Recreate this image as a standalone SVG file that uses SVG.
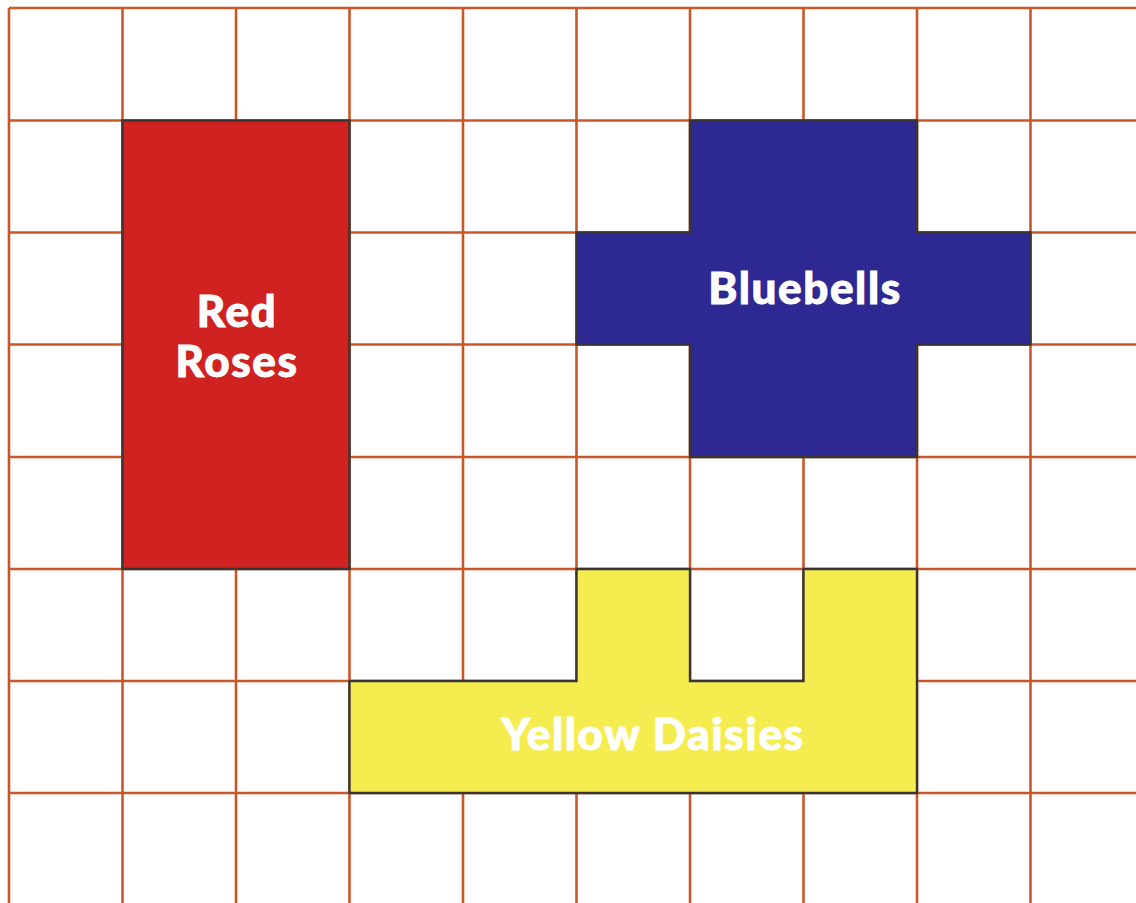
<svg xmlns="http://www.w3.org/2000/svg" width="1136" height="903" viewBox="0 0 1136 903">
<style>
.g{stroke:#c8582a;stroke-width:2.6;fill:none}
.bed{stroke:#3a3535;stroke-width:2.4;stroke-linejoin:miter}
.lbl{font-family:Lato,"Liberation Sans",sans-serif;font-weight:900;fill:#ffffff;stroke:#ffffff;stroke-width:0.9;text-anchor:middle;font-size:44px;letter-spacing:1.6px}
</style>
<rect width="1136" height="903" fill="#ffffff"/>
<g id="grid" class="g">
<path d="M9,8V903M122.5,8V903M236,8V903M349.5,8V903M463,8V903M576.5,8V903M690,8V903M803.5,8V903M917,8V903M1030.5,8V903"/>
<path d="M9,8H1136M9,120.5H1136M9,232.5H1136M9,344.5H1136M9,457H1136M9,569H1136M9,681H1136M9,793H1136"/>
</g>
<g id="red-roses">
<rect class="bed" x="122.5" y="120.5" width="227" height="448.5" fill="#d02220"/>
<text class="lbl" x="237" y="327">Red</text>
<text class="lbl" x="237" y="377">Roses</text>
</g>
<g id="bluebells">
<path class="bed" fill="#2e2893" d="M690,120.5H917V232.5H1030.5V344.5H917V457H690V344.5H576.5V232.5H690Z"/>
<text class="lbl" x="805" y="304">Bluebells</text>
</g>
<g id="yellow-daisies">
<path class="bed" fill="#f5ec50" d="M349.5,681H576.5V569H690V681H803.5V569H917V793H349.5Z"/>
<text class="lbl" x="653" y="750">Yellow Daisies</text>
</g>
</svg>
